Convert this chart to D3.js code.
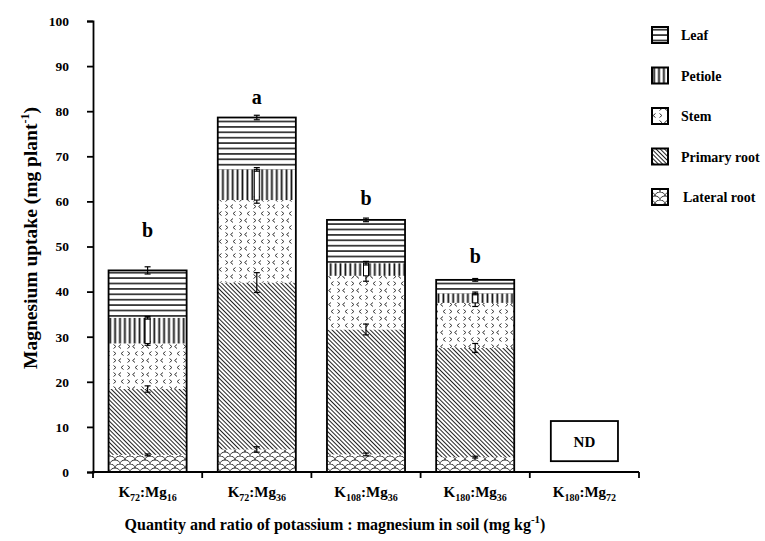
<!DOCTYPE html>
<html>
<head>
<meta charset="utf-8">
<script src="https://cdn.jsdelivr.net/npm/d3@7"></script>
<style>
  body { margin: 0; background: #fff; }
  svg text { font-family: "Liberation Serif", "Times New Roman", serif; font-weight: bold; fill: #000; }
</style>
</head>
<body>
<svg id="chart" width="765" height="541"></svg>
<script>
// treatments (K : Mg in soil)
var kSub = ["72", "72", "108", "180", "180"];
var mgSub = ["16", "36", "36", "36", "72"];

// segment values, mg plant-1 (null = not determined)
var lateral = [3.8, 5.0, 3.9, 3.3, null];
var primary = [14.6, 37.0, 27.7, 24.2, null];
var stem    = [10.1, 18.3, 11.9, 10.0, null];
var petiole = [5.7, 6.8, 2.8, 2.1, null];
var leaf    = [10.5, 11.5, 9.6, 3.0, null];

// error bars (half width)
var errLateral = [0.2, 0.6, 0.3, 0.2, null];
var errPrimary = [0.7, 2.2, 1.2, 1.0, null];
var errStem    = [0.4, 0.7, 1.2, 0.8, null];
var errPetiole = [0.3, 0.4, 0.4, 0.3, null];
var errLeaf    = [0.8, 0.5, 0.4, 0.3, null];

// significance letters and the level they sit at
var letters = ["b", "a", "b", "b", ""];
var letterLevel = [52.2, 81.5, 59.2, 46.3, null];

var yTicks = [0, 10, 20, 30, 40, 50, 60, 70, 80, 90, 100];
var keys = ["lateral", "primary", "stem", "petiole", "leaf"];
var legendNames = ["Leaf", "Petiole", "Stem", "Primary root", "Lateral root"];
var legendKeys = ["leaf", "petiole", "stem", "primary", "lateral"];

var svg = d3.select("#chart");
var padL = 93, padR = 639, padT = 21, padB = 472;

var cats = kSub.map(function(k, i){ return "K" + k + ":Mg" + mgSub[i]; });

var x = d3.scaleBand().domain(cats).range([padL, padR])
   .paddingInner(0.285).paddingOuter(0.1425);
var y = d3.scaleLinear().domain([0, 100]).range([padB, padT]);

// ---- patterns
var defs = svg.append("defs");
function pattern(id, w, h, rot){
   var p = defs.append("pattern").attr("id", id)
      .attr("patternUnits", "userSpaceOnUse")
      .attr("width", w).attr("height", h);
   if(rot) p.attr("patternTransform", "rotate(" + rot + ")");
   p.append("rect").attr("width", w).attr("height", h).attr("fill", "#fff");
   return p;
}
var pl = pattern("p-leaf", 10, 5.4);
pl.append("line").attr("x1", 0).attr("x2", 10).attr("y1", 2.7).attr("y2", 2.7)
   .attr("stroke", "#111").attr("stroke-width", 1.5);

var pp = pattern("p-petiole", 4.9, 10);
pp.append("line").attr("x1", 2.4).attr("x2", 2.4).attr("y1", 0).attr("y2", 10)
   .attr("stroke", "#111").attr("stroke-width", 1.8);

var ps = pattern("p-stem", 14, 14);
ps.append("path")
   .attr("d", "M1.5,1.5 l2.4,2 l-2.4,2 M11.5,1.5 l-2.4,2 l2.4,2 M9,8.5 l-2.4,2 l2.4,2 M1.5,8.5 l2.4,2 l-2.4,2")
   .attr("fill", "none").attr("stroke", "#333").attr("stroke-width", 1);

var pr = pattern("p-primary", 3, 10, -45);
pr.append("line").attr("x1", 1.5).attr("x2", 1.5).attr("y1", 0).attr("y2", 10)
   .attr("stroke", "#222").attr("stroke-width", 1);

var pla = pattern("p-lateral", 10, 8);
pla.append("path")
   .attr("d", "M-5,4 A5,4 0 0 1 5,4 A5,4 0 0 1 15,4 M0,8 A5,4 0 0 1 10,8 M0,0 L0,0")
   .attr("fill", "none").attr("stroke", "#333").attr("stroke-width", 1);

// ---- stack
var rows = cats.map(function(c, i){
   return { cat: c, i: i, lateral: lateral[i] || 0, primary: primary[i] || 0,
      stem: stem[i] || 0, petiole: petiole[i] || 0, leaf: leaf[i] || 0,
      nd: lateral[i] == null };
});
var errs = { lateral: errLateral, primary: errPrimary, stem: errStem, petiole: errPetiole, leaf: errLeaf };
var stacked = d3.stack().keys(keys)(rows);

var bars = svg.append("g");
stacked.forEach(function(s){
   bars.selectAll(null).data(s.filter(function(d){ return !d.data.nd; }))
      .enter().append("rect")
      .attr("x", function(d){ return x(d.data.cat); })
      .attr("width", x.bandwidth())
      .attr("y", function(d){ return y(d[1]); })
      .attr("height", function(d){ return y(d[0]) - y(d[1]); })
      .attr("fill", "url(#p-" + s.key + ")");
});

var real = rows.filter(function(d){ return !d.nd; });
var totals = stacked[stacked.length - 1];
bars.selectAll(null).data(real).enter().append("rect")
   .attr("x", function(d){ return x(d.cat); })
   .attr("width", x.bandwidth())
   .attr("y", function(d){ return y(totals[d.i][1]); })
   .attr("height", function(d){ return y(0) - y(totals[d.i][1]); })
   .attr("fill", "none").attr("stroke", "#000").attr("stroke-width", 1.8);

// ---- error bars
var eb = svg.append("g").attr("stroke", "#000").attr("stroke-width", 1.2);
var petIdx = keys.indexOf("petiole");
stacked.forEach(function(s, k){
   s.forEach(function(d){
      if(d.data.nd) return;
      var cx = x(d.data.cat) + x.bandwidth() / 2;
      var e = errs[s.key][d.data.i];
      if(k == petIdx){
         // white gap strip down to the stem top
         eb.append("rect").attr("x", cx - 2.5).attr("width", 5)
            .attr("y", y(d[1])).attr("height", y(d[0]) - y(d[1]))
            .attr("fill", "#fff").attr("stroke-width", 1);
      }
      eb.append("line").attr("x1", cx).attr("x2", cx)
         .attr("y1", y(d[1] - e)).attr("y2", y(d[1] + e));
      [d[1] - e, d[1] + e].forEach(function(v){
         eb.append("line").attr("x1", cx - 3).attr("x2", cx + 3)
            .attr("y1", y(v)).attr("y2", y(v));
      });
   });
});

// ---- letters
svg.append("g").selectAll("text").data(real).enter().append("text")
   .attr("x", function(d){ return x(d.cat) + x.bandwidth() / 2; })
   .attr("y", function(d){ return y(letterLevel[d.i]); })
   .attr("text-anchor", "middle").attr("font-size", 20)
   .text(function(d){ return letters[d.i]; });

// ---- ND box
rows.filter(function(d){ return d.nd; }).forEach(function(d){
   var w = x.bandwidth() * 0.86;
   var cx = x(d.cat) + x.bandwidth() / 2;
   svg.append("rect").attr("x", cx - w / 2).attr("width", w)
      .attr("y", y(11.3)).attr("height", y(2.4) - y(11.3))
      .attr("fill", "#fff").attr("stroke", "#000").attr("stroke-width", 1.8);
   svg.append("text").attr("x", cx).attr("y", y(6.85) + 5.5)
      .attr("text-anchor", "middle").attr("font-size", 15).text("ND");
});

// ---- axes
var ya = svg.append("g").attr("transform", "translate(" + padL + ",0)")
   .call(d3.axisLeft(y).tickValues(yTicks).tickSize(6).tickPadding(18));
ya.select(".domain").attr("stroke-width", 1.8);
ya.selectAll(".tick line").attr("stroke-width", 1.8);
ya.selectAll(".tick text").attr("font-size", 13.5).attr("font-family", null);

svg.append("line").attr("x1", padL - 1).attr("x2", padR)
   .attr("y1", padB).attr("y2", padB)
   .attr("stroke", "#000").attr("stroke-width", 2);
var step = x.step();
d3.range(cats.length + 1).forEach(function(i){
   var tx = padL + i * step;
   svg.append("line").attr("x1", tx).attr("x2", tx)
      .attr("y1", padB).attr("y2", padB + 6)
      .attr("stroke", "#000").attr("stroke-width", 1.8);
});

var xl = svg.append("g").selectAll("text").data(cats).enter().append("text")
   .attr("x", function(d){ return x(d) + x.bandwidth() / 2; })
   .attr("y", 497).attr("text-anchor", "middle").attr("font-size", 15);
xl.each(function(d, i){
   var t = d3.select(this);
   t.append("tspan").text("K");
   t.append("tspan").attr("font-size", 10).attr("dy", 4).text(kSub[i]);
   t.append("tspan").attr("dy", -4).text(":Mg");
   t.append("tspan").attr("font-size", 10).attr("dy", 4).text(mgSub[i]);
});

var xt = svg.append("text").attr("x", 335).attr("y", 530)
   .attr("text-anchor", "middle").attr("font-size", 16);
xt.append("tspan").text("Quantity and ratio of potassium : magnesium in soil (mg kg");
xt.append("tspan").attr("font-size", 11).attr("dy", -7).text("-1");
xt.append("tspan").attr("dy", 7).text(")");

var yt = svg.append("text").attr("transform", "translate(37,238) rotate(-90)")
   .attr("text-anchor", "middle").attr("font-size", 19.5);
yt.append("tspan").text("Magnesium uptake (mg plant");
yt.append("tspan").attr("font-size", 12).attr("dy", -8).text("-1");
yt.append("tspan").attr("dy", 8).text(")");

// ---- legend
var lg = svg.append("g");
legendKeys.forEach(function(k, i){
   var ly = 27 + i * 40.5;
   lg.append("rect").attr("x", 652).attr("y", ly).attr("width", 16).attr("height", 16)
      .attr("fill", "url(#p-" + k + ")").attr("stroke", "#000").attr("stroke-width", 2);
   lg.append("text").attr("x", k == "lateral" ? 683 : 681).attr("y", ly + 13)
      .attr("font-size", 14).text(legendNames[i]);
});
</script>
</body>
</html>
